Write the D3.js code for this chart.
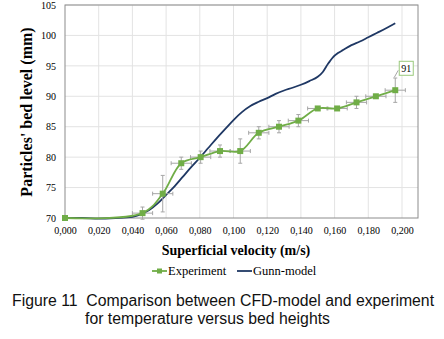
<!DOCTYPE html>
<html>
<head>
<meta charset="utf-8">
<script src="https://cdn.jsdelivr.net/npm/d3@7"></script>
<style>
  body { margin: 0; background: #fff; }
  svg { display: block; }
</style>
</head>
<body>
<div id="chart"></div>
<script>
// experiment measurements
const expVelocity = [0.000, 0.046, 0.058, 0.069, 0.0805, 0.092, 0.104, 0.115, 0.127, 0.1385, 0.150, 0.1615, 0.173, 0.1845, 0.196];
const expLevel    = [70, 70.8, 74, 79, 80, 81, 81, 84, 85, 86, 88, 88, 89, 90, 91];
const expErrY     = [0, 1, 3, 1, 1, 1, 2, 1, 1, 1, 0.3, 0.3, 1, 0.3, 2];
const expErrX     = 0.006;

// Gunn-model curve
const gunnVelocity = [0, 0.01, 0.02, 0.03, 0.04, 0.045, 0.05, 0.055, 0.06, 0.065, 0.07, 0.075, 0.08, 0.085, 0.09, 0.095,
  0.1, 0.105, 0.11, 0.115, 0.12, 0.125, 0.13, 0.135, 0.14, 0.145, 0.15, 0.153, 0.156, 0.159, 0.162, 0.165,
  0.17, 0.175, 0.18, 0.185, 0.19, 0.196];
const gunnLevel = [70, 70.0, 69.9, 70.0, 70.2, 70.6, 71.3, 72.4, 73.8, 75.2, 76.8, 78.4, 79.9, 81.5, 83.1, 84.6,
  86.1, 87.4, 88.4, 89.1, 89.7, 90.4, 90.95, 91.4, 91.9, 92.5, 93.2, 94.0, 95.3, 96.4, 97.1, 97.6,
  98.4, 99.0, 99.7, 100.4, 101.1, 102.0];

const xTicks = [0, 0.02, 0.04, 0.06, 0.08, 0.1, 0.12, 0.14, 0.16, 0.18, 0.2];
const yTicks = [70, 75, 80, 85, 90, 95, 100, 105];

const width = 444;
const height = 339;
const margin = { left: 65, top: 5, right: 26, bottom: 121 };
const serif = "'Liberation Serif', 'Times New Roman', serif";

const svg = d3.select("#chart")
  .append("svg")
  .attr("width", width)
  .attr("height", height);

const x = d3.scaleLinear()
  .domain([0, 0.2095])
  .range([margin.left, width - margin.right]);

const y = d3.scaleLinear()
  .domain([70, 105])
  .range([height - margin.bottom, margin.top]);

// grid
svg.append("g")
  .selectAll("line")
  .data(xTicks.slice(1))
  .enter()
  .append("line")
  .attr("x1", d => x(d)).attr("x2", d => x(d))
  .attr("y1", y(70)).attr("y2", y(105))
  .attr("stroke", "#e3e3e3");

svg.append("g")
  .selectAll("line")
  .data(yTicks.slice(1))
  .enter()
  .append("line")
  .attr("x1", x.range()[0]).attr("x2", x.range()[1])
  .attr("y1", d => y(d)).attr("y2", d => y(d))
  .attr("stroke", "#e3e3e3");

// frame
svg.append("rect")
  .attr("x", x.range()[0])
  .attr("y", y(105))
  .attr("width", x.range()[1] - x.range()[0])
  .attr("height", y(70) - y(105))
  .attr("fill", "none")
  .attr("stroke", "#8c8c8c");

// axes
const xAxis = svg.append("g")
  .attr("transform", `translate(0,${y(70)})`)
  .call(d3.axisBottom(x).tickValues(xTicks).tickSize(0).tickPadding(9)
    .tickFormat(d => d3.format(".3f")(d).replace(".", ",")));
xAxis.select(".domain").remove();
xAxis.selectAll("text").style("font-family", serif).style("font-size", "10px").attr("fill", "#000");

const yAxis = svg.append("g")
  .attr("transform", `translate(${x.range()[0]},0)`)
  .call(d3.axisLeft(y).tickValues(yTicks).tickSize(0).tickPadding(9));
yAxis.select(".domain").remove();
yAxis.selectAll("text").style("font-family", serif).style("font-size", "10px").attr("fill", "#000");

// axis titles
svg.append("text")
  .attr("transform", "translate(32,112) rotate(-90)")
  .attr("text-anchor", "middle")
  .style("font-family", serif)
  .style("font-weight", "bold")
  .style("font-size", "16px")
  .text("Particles' bed level (mm)");

svg.append("text")
  .attr("x", 236)
  .attr("y", 255)
  .attr("text-anchor", "middle")
  .style("font-family", serif)
  .style("font-weight", "bold")
  .style("font-size", "14px")
  .text("Superficial velocity (m/s)");

// Gunn-model line
const gunnData = gunnVelocity.map((v, i) => ({ v: v, h: gunnLevel[i] }));
svg.append("path")
  .datum(gunnData)
  .attr("fill", "none")
  .attr("stroke", "#1f3864")
  .attr("stroke-width", 1.8)
  .attr("d", d3.line().x(d => x(d.v)).y(d => y(d.h)).curve(d3.curveMonotoneX));

// experiment
const expData = expVelocity.map((v, i) => ({ v: v, h: expLevel[i], e: expErrY[i] }));
const errColor = "#a6a6a6";
const errG = svg.append("g").attr("stroke", errColor).attr("stroke-width", 1);
expData.slice(1).forEach(d => {
  errG.append("line")
    .attr("x1", x(d.v - expErrX)).attr("x2", x(d.v + expErrX))
    .attr("y1", y(d.h)).attr("y2", y(d.h));
  [d.v - expErrX, d.v + expErrX].forEach(c => {
    errG.append("line")
      .attr("x1", x(c)).attr("x2", x(c))
      .attr("y1", y(d.h) - 2).attr("y2", y(d.h) + 2);
  });
  if (d.e > 0) {
    errG.append("line")
      .attr("x1", x(d.v)).attr("x2", x(d.v))
      .attr("y1", y(d.h - d.e)).attr("y2", y(d.h + d.e));
    [d.h - d.e, d.h + d.e].forEach(c => {
      errG.append("line")
        .attr("x1", x(d.v) - 2).attr("x2", x(d.v) + 2)
        .attr("y1", y(c)).attr("y2", y(c));
    });
  }
});

svg.append("path")
  .datum(expData)
  .attr("fill", "none")
  .attr("stroke", "#70ad47")
  .attr("stroke-width", 1.8)
  .attr("d", d3.line().x(d => x(d.v)).y(d => y(d.h)).curve(d3.curveCatmullRom.alpha(0.5)));

svg.append("g")
  .selectAll("rect")
  .data(expData)
  .enter()
  .append("rect")
  .attr("x", d => x(d.v) - 3)
  .attr("y", d => y(d.h) - 3)
  .attr("width", 6)
  .attr("height", 6)
  .attr("fill", "#70ad47");

// data label on last point
const last = expData[expData.length - 1];
const lx = x(last.v) + 4;
const ly = y(last.h + 3.6);
svg.append("line")
  .attr("x1", x(last.v) - 1).attr("y1", y(last.h + 2.1))
  .attr("x2", lx - 1).attr("y2", ly + 2)
  .attr("stroke", errColor);
svg.append("rect")
  .attr("x", lx).attr("y", ly - 7)
  .attr("width", 14).attr("height", 14)
  .attr("fill", "#fff")
  .attr("stroke", "#9bc97e");
svg.append("text")
  .attr("x", lx + 7).attr("y", ly + 3.5)
  .attr("text-anchor", "middle")
  .style("font-family", serif)
  .style("font-size", "10px")
  .text(expLevel[expLevel.length - 1]);

// legend
const legendY = 275;
const legend = svg.append("g");
legend.append("line")
  .attr("x1", 152).attr("x2", 167).attr("y1", legendY - 4).attr("y2", legendY - 4)
  .attr("stroke", "#70ad47").attr("stroke-width", 1.8);
legend.append("rect")
  .attr("x", 157).attr("y", legendY - 6.5).attr("width", 5).attr("height", 5)
  .attr("fill", "#70ad47");
legend.append("text")
  .attr("x", 168).attr("y", legendY)
  .style("font-family", serif).style("font-size", "12.5px")
  .text("Experiment");
legend.append("line")
  .attr("x1", 237).attr("x2", 252).attr("y1", legendY - 4).attr("y2", legendY - 4)
  .attr("stroke", "#1f3864").attr("stroke-width", 1.8);
legend.append("text")
  .attr("x", 253).attr("y", legendY)
  .style("font-family", serif).style("font-size", "12.5px")
  .text("Gunn-model");

// caption
const sans = "'Liberation Sans', Arial, sans-serif";
svg.append("text")
  .attr("x", 12).attr("y", 306)
  .style("font-family", sans).style("font-size", "15.8px")
  .attr("fill", "#111")
  .text("Figure 11\u00a0 Comparison between CFD-model and experiment");
svg.append("text")
  .attr("x", 85).attr("y", 324)
  .style("font-family", sans).style("font-size", "15.8px")
  .attr("fill", "#111")
  .text("for temperature versus bed heights");
</script>
</body>
</html>
